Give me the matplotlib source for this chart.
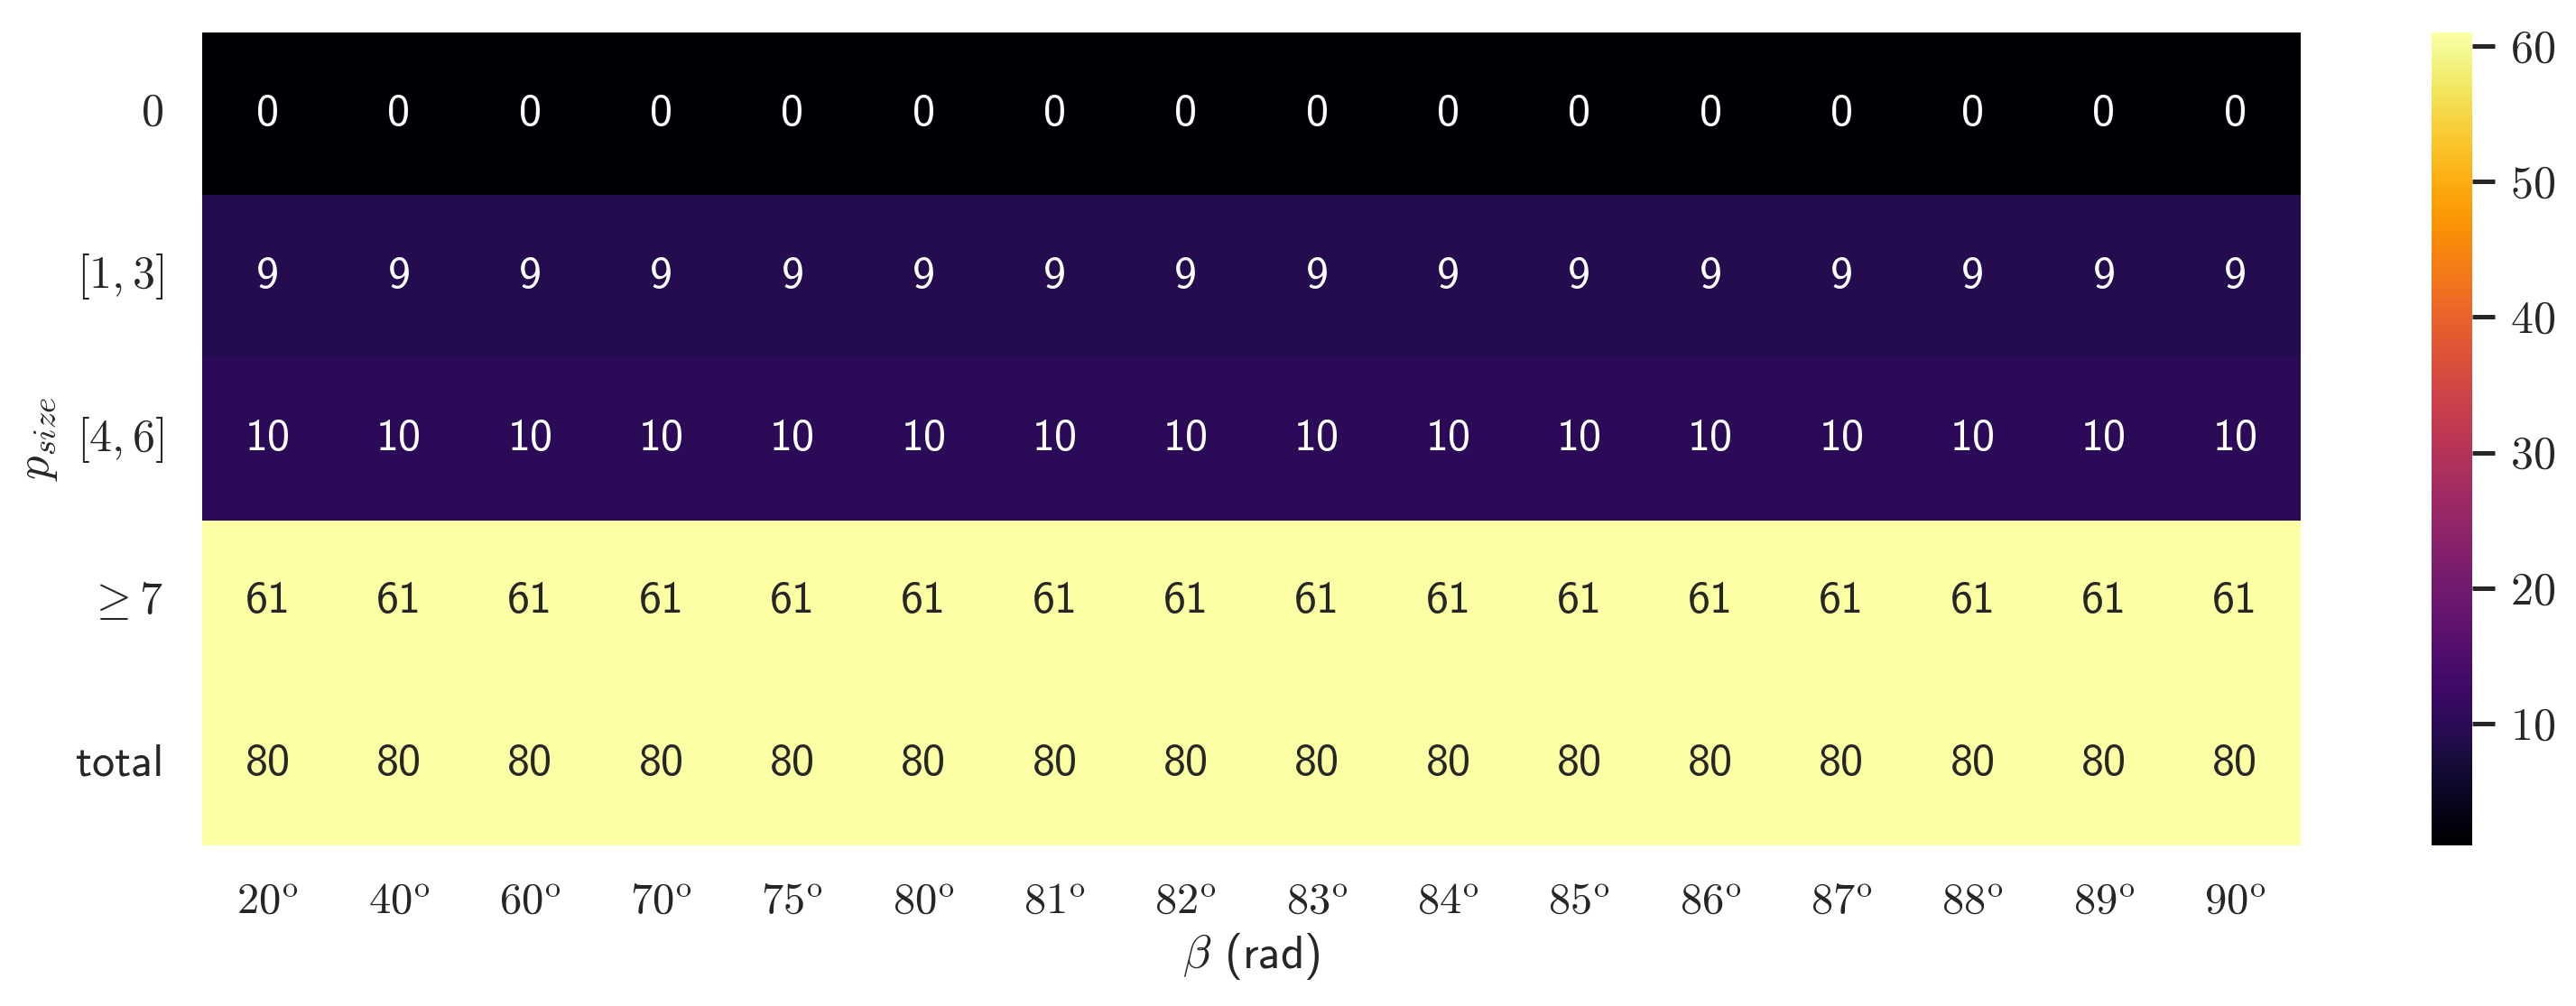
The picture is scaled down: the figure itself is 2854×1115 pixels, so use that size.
import numpy as np
import pandas as pd
import seaborn as sns
import matplotlib
matplotlib.use("Agg")
import matplotlib.pyplot as plt

# dados do heatmap (contagens por faixa de p_size para cada beta)
betas = ["20", "40", "60", "70", "75", "80", "81", "82", "83", "84", "85", "86", "87", "88", "89", "90"]
linhas = [r"$0$", r"$[1,3]$", r"$[4,6]$", r"$\geq 7$", "total"]

p_zero = [0, 0, 0, 0, 0, 0, 0, 0, 0, 0, 0, 0, 0, 0, 0, 0]
p_1_3 = [9, 9, 9, 9, 9, 9, 9, 9, 9, 9, 9, 9, 9, 9, 9, 9]
p_4_6 = [10, 10, 10, 10, 10, 10, 10, 10, 10, 10, 10, 10, 10, 10, 10, 10]
p_7_mais = [61, 61, 61, 61, 61, 61, 61, 61, 61, 61, 61, 61, 61, 61, 61, 61]
total = [80, 80, 80, 80, 80, 80, 80, 80, 80, 80, 80, 80, 80, 80, 80, 80]

cbar_ticks = [10, 20, 30, 40, 50, 60]

# fonte sans do computer modern (vem com o matplotlib)
plt.rcParams["font.family"] = ["cmss10", "DejaVu Sans"]
plt.rcParams["mathtext.fontset"] = "cm"
plt.rcParams["axes.unicode_minus"] = False
plt.rcParams["text.color"] = "#262626"
plt.rcParams["axes.labelcolor"] = "#262626"
plt.rcParams["xtick.color"] = "#262626"
plt.rcParams["ytick.color"] = "#262626"

df = pd.DataFrame([p_zero, p_1_3, p_4_6, p_7_mais, total],
                  index=linhas, columns=[r"$%s^{\mathrm{o}}$" % b for b in betas])

fig = plt.figure(figsize=(14.27, 5.575), dpi=200)
ax = fig.add_axes([0.0785, 0.1596, 0.8146, 0.8081])
cax = fig.add_axes([0.9440, 0.1596, 0.0158, 0.8081])

sns.heatmap(df, ax=ax, cbar_ax=cax, cmap="inferno", vmin=1, vmax=61,
            annot=True, fmt="d", annot_kws={"fontsize": 18})

ax.tick_params(axis="both", length=0)
ax.tick_params(axis="x", labelsize=17.5, pad=14.5, rotation=0)
ax.tick_params(axis="y", labelsize=18, pad=15.5, rotation=0)

ax.set_xlabel(r"$\beta$ (rad)", fontsize=18.5)
ax.set_ylabel(r"$p_{size}$", fontsize=19)
ax.xaxis.set_label_coords(0.5, -0.105)
ax.yaxis.set_label_coords(-0.068, 0.5)

cax.set_yticks(cbar_ticks)
cax.set_yticklabels([r"$%d$" % t for t in cbar_ticks])
cax.tick_params(axis="y", length=9, width=1.8, labelsize=18, pad=6, color="#262626")
for s in cax.spines.values():
    s.set_visible(False)

plt.savefig("out.png", dpi=200)
plt.close()
